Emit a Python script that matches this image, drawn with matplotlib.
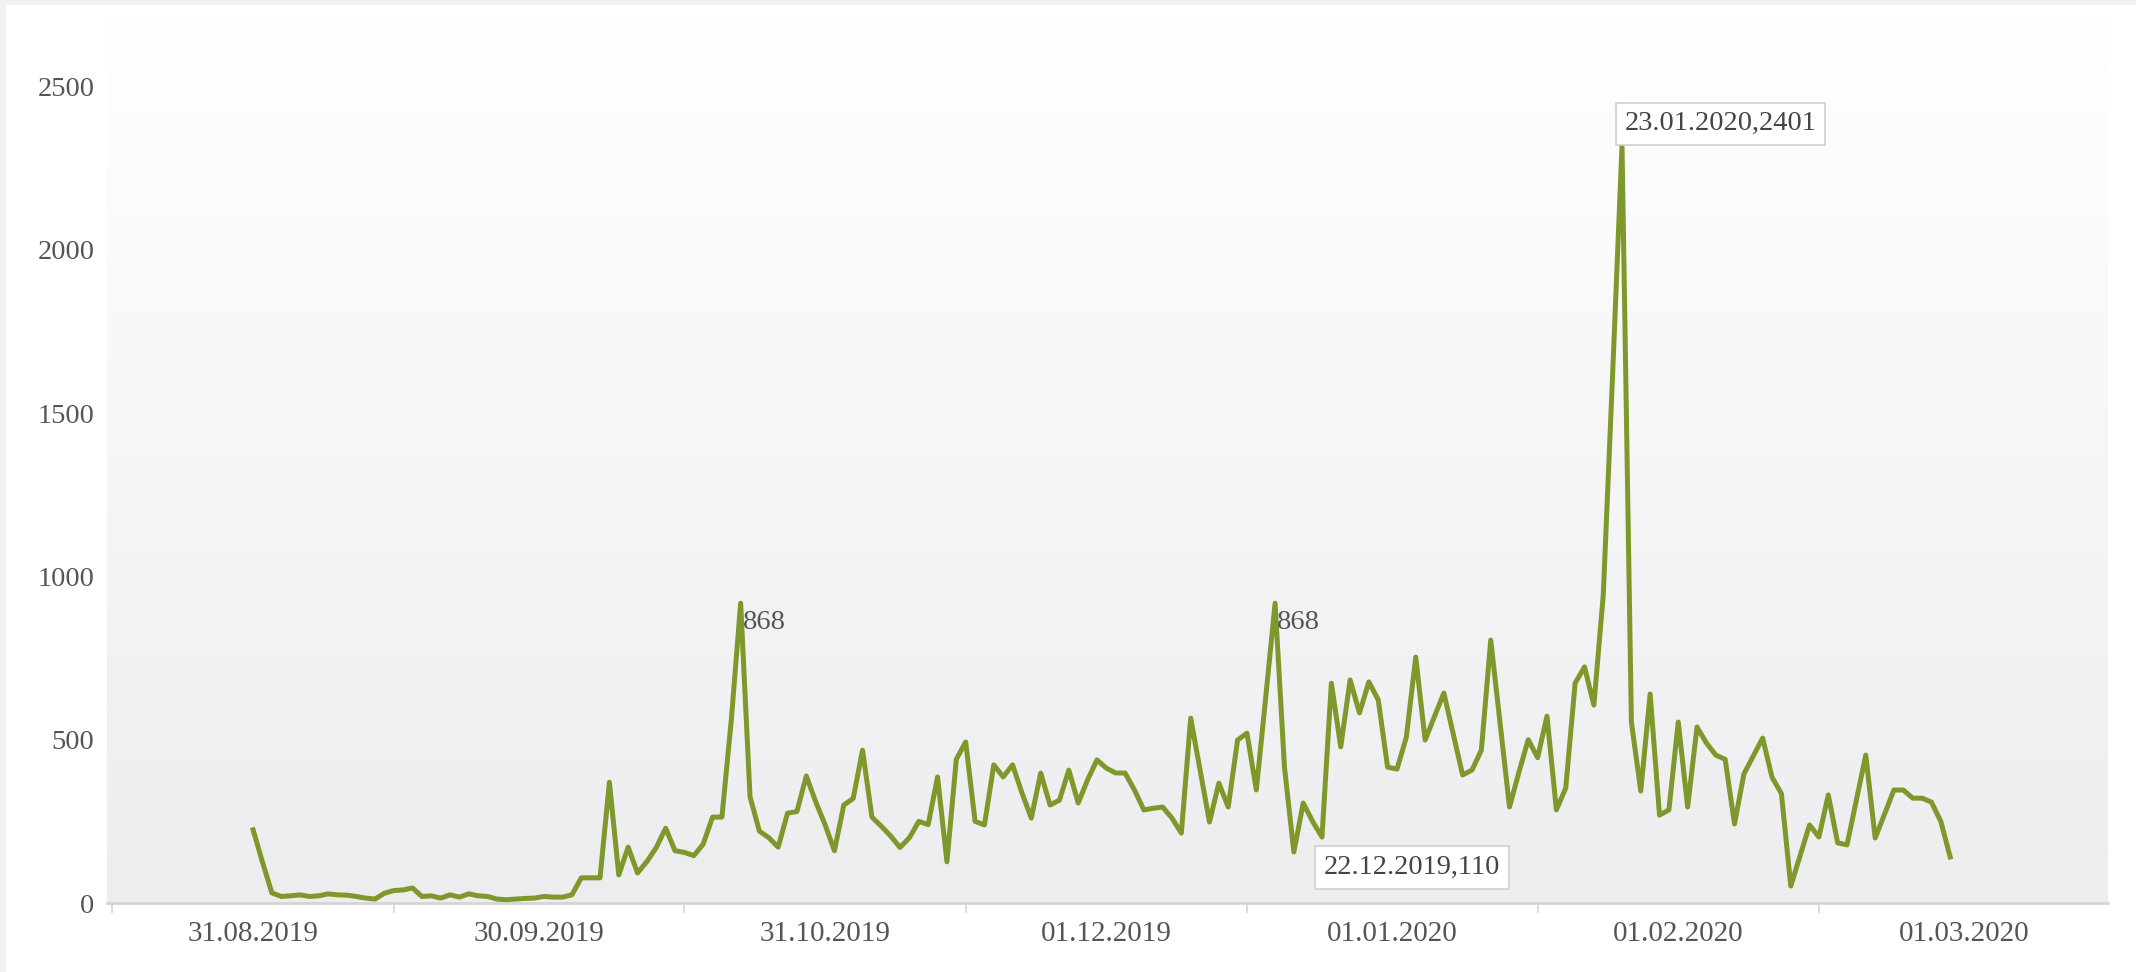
import numpy as np
import pandas as pd
import matplotlib
matplotlib.use("Agg")
import matplotlib.pyplot as plt
import matplotlib.dates as mdates
from matplotlib.ticker import FixedLocator, FixedFormatter, NullFormatter
from matplotlib.colors import LinearSegmentedColormap
from matplotlib.patches import Rectangle

plt.rcParams['font.family'] = ['Liberation Serif', 'DejaVu Serif']

# ---------------- data ----------------
start_date = "2019-08-30"
values_sep = [224, 125, 31, 20, 22, 25, 20, 22, 28, 25, 24, 20, 15, 12, 30, 38, 40, 46,
              20, 22, 15, 25, 18, 28, 22, 20, 12, 10, 12, 14, 15, 20, 18, 18, 25]
values_oct = [77, 77, 77, 370, 86, 171, 92, 127, 170, 229, 160, 155, 145, 180, 263, 263,
              560, 918, 325, 220, 200, 171, 275, 280, 389, 310, 240, 160, 300, 320]
values_nov = [468, 263, 235, 205, 170, 200, 250, 240, 386, 126, 440, 493, 250, 239, 423,
              386, 423, 337, 260, 398, 300, 315, 407, 306, 377, 438, 413, 398, 398, 346,
              285, 290, 294, 260]
values_dec = [214, 566, 407, 248, 367, 294, 499, 520, 346, 630, 918, 416, 156, 306, 250, 202]
values_jan = [673, 478, 683, 582, 677, 622, 416, 410, 508, 753, 499, 571, 643, 517, 392,
              407, 468, 805, 550, 294, 400, 500, 445, 572, 285, 352, 673, 723, 606, 943,
              1620, 2320]
values_feb = [554, 343, 640, 269, 285, 554, 294, 539, 490, 453, 440, 242, 395, 450, 505,
              385, 335, 52, 145, 239, 202, 331, 184, 178, 315, 453, 199, 272, 346, 346,
              321, 321, 309, 250, 141]

values = values_sep + values_oct + values_nov + values_dec + values_jan + values_feb
dates = pd.date_range(start_date, periods=len(values), freq="D")

y_ticks = [0, 500, 1000, 1500, 2000, 2500]
x_tick_marks = ["2019-08-15", "2019-09-14", "2019-10-15", "2019-11-14",
                "2019-12-14", "2020-01-14", "2020-02-13", "2020-03-15"]
x_labels = ["31.08.2019", "30.09.2019", "31.10.2019", "01.12.2019",
            "01.01.2020", "01.02.2020", "01.03.2020"]

peak_labels = [("2019-10-21", "868"), ("2019-12-17", "868")]
low_point = ("2019-12-22", "22.12.2019,110")
max_point = ("2020-01-23", "23.01.2020,2401")

# ---------------- figure ----------------
W, H = 2136, 972
fig = plt.figure(figsize=(W / 100, H / 100), dpi=100)
fig.patch.set_facecolor("white")

rect = [107 / W, 1 - 903 / H, (2108 - 107) / W, (903 - 15) / H]

# gradient background panel
bg = fig.add_axes(rect, zorder=0)
cmap = LinearSegmentedColormap.from_list("bg", ["#ededf0", "#f6f6f7", "#ffffff"])
grad = np.linspace(0, 1, 256)[:, None]
bg.imshow(grad, aspect="auto", cmap=cmap, origin="lower", extent=[0, 1, 0, 1])
bg.axis("off")

ax = fig.add_axes(rect, zorder=1)
ax.set_facecolor("none")

ax.plot(dates, values, color="#7f982c", lw=3.6, solid_joinstyle="round", zorder=3)

ax.set_xlim(pd.Timestamp("2019-08-14 10:00"), pd.Timestamp("2020-03-14 20:00"))
ax.set_ylim(0, 2719)

for s in ["top", "right", "left"]:
    ax.spines[s].set_visible(False)
ax.spines["bottom"].set_color("#d4d4d4")
ax.spines["bottom"].set_linewidth(2)

tick_nums = mdates.date2num(pd.to_datetime(x_tick_marks))
mid_nums = (tick_nums[:-1] + tick_nums[1:]) / 2
ax.xaxis.set_major_locator(FixedLocator(tick_nums))
ax.xaxis.set_major_formatter(NullFormatter())
ax.xaxis.set_minor_locator(FixedLocator(mid_nums))
ax.xaxis.set_minor_formatter(FixedFormatter(x_labels))
ax.tick_params(axis="x", which="major", length=7, width=1.2, color="#d4d4d4")
ax.tick_params(axis="x", which="minor", length=0, pad=13, labelsize=21, labelcolor="#555555")

ax.set_yticks(y_ticks)
ax.set_yticklabels([str(v) for v in y_ticks])
ax.tick_params(axis="y", length=0, pad=9, labelsize=20.5, labelcolor="#555555")

# peak labels
for d, txt in peak_labels:
    i = list(dates).index(pd.Timestamp(d))
    ax.annotate(txt, xy=(dates[i], values[i]), xytext=(2, -19), textcoords="offset pixels",
                ha="left", va="center", fontsize=20.5, color="#555555", zorder=4)

box = dict(boxstyle="square,pad=0.3", fc="white", ec="#d0d0d0", lw=1.2)
i = list(dates).index(pd.Timestamp(low_point[0]))
ax.annotate(low_point[1], xy=(dates[i], values[i]), xytext=(2, -18), textcoords="offset pixels",
            ha="left", va="top", fontsize=20.5, color="#444444", bbox=box, zorder=5)
i = list(dates).index(pd.Timestamp(max_point[0]))
ax.annotate(max_point[1], xy=(dates[i], values[i]), xytext=(3, 9), textcoords="offset pixels",
            ha="left", va="bottom", fontsize=20.5, color="#444444", bbox=box, zorder=5)

# thin outer frame strips (top and left)
fig.patches.append(Rectangle((0, 0), 6 / W, 1, transform=fig.transFigure,
                             facecolor="#f1f1f1", edgecolor="none", zorder=0))
fig.patches.append(Rectangle((0, 1 - 5 / H), 1, 5 / H, transform=fig.transFigure,
                             facecolor="#f1f1f1", edgecolor="none", zorder=0))

fig.savefig("out.png", dpi=100)
